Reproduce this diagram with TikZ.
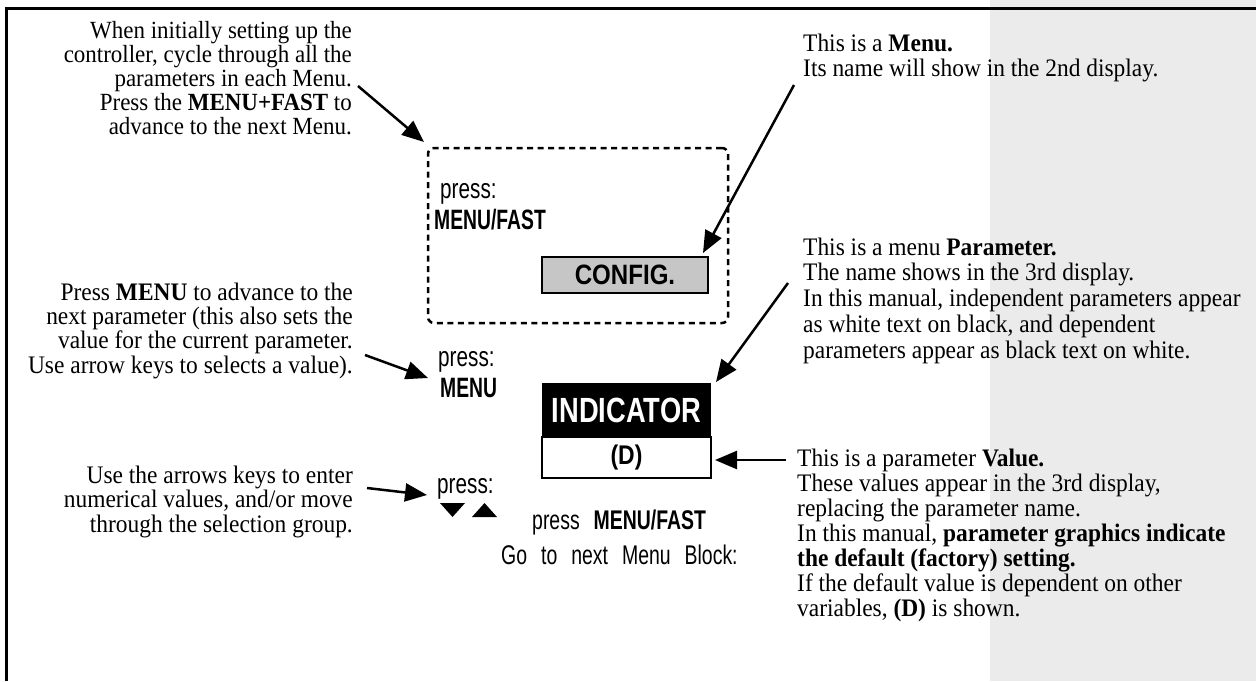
\documentclass[tikz,border=0pt]{standalone}
\usepackage{fontspec}
\setmainfont[FakeStretch=0.93]{Liberation Serif}
\newfontfamily\cond{Liberation Sans}
\usetikzlibrary{arrows.meta}
\definecolor{bggray}{HTML}{EBEBEB}
\definecolor{boxgray}{HTML}{C6C6C6}
\tikzset{
  lnote/.style={inner sep=0pt, align=right, anchor=north east, font=\fontsize{24.7}{24}\selectfont},
  mnote/.style={inner sep=0pt, align=right, anchor=north east, font=\fontsize{25.2}{24.3}\selectfont},
  bnote/.style={inner sep=0pt, align=right, anchor=north east, font=\fontsize{25.2}{24.5}\selectfont},
  rnote/.style={inner sep=0pt, align=left, anchor=north west, font=\fontsize{25.2}{25}\selectfont},
  rnotem/.style={rnote, font=\fontsize{25.2}{25.8}\selectfont},
  keytext/.style={inner sep=0pt, anchor=base west},
  arr/.style={line width=2.5pt, -{Triangle[length=22pt,width=18pt]}},
  dashbox/.style={draw, line width=2.5pt, dash pattern=on 6pt off 4.5pt, rounded corners=6pt, inner sep=0pt},
  cfgbox/.style={draw, fill=boxgray, line width=2.5pt, inner sep=0pt, minimum width=166pt, minimum height=36pt},
  parbox/.style={fill=black, text=white, inner sep=0pt, minimum width=169pt, minimum height=54pt},
  valbox/.style={draw, fill=white, line width=2pt, inner sep=0pt, minimum width=169pt, minimum height=41pt},
}
\newcommand{\keyfont}[2]{\cond\addfontfeature{FakeStretch=#1}\fontsize{#2}{#2}\selectfont}
\begin{document}
\begin{tikzpicture}[x=1pt, y=-1pt]
\useasboundingbox (0,0) rectangle (1256,681);
\fill[bggray] (990,0) rectangle (1256,681);
\draw[line width=3pt] (1256,8) -- (6,8) -- (6,681);

% display boxes
\node[dashbox, minimum width=300pt, minimum height=175pt] (menubox) at (578,235.5) {};
\node[cfgbox] (config) at (625,275) {\keyfont{0.86}{28}\bfseries CONFIG.};
\node[parbox] (param) at (626.5,410) {\keyfont{0.78}{35}\bfseries INDICATOR};
\node[valbox] (value) at (626.5,457.5) {\keyfont{0.85}{27}\bfseries (D)};

% key texts
\node[keytext] (p1) at (440,198) {\keyfont{0.74}{28}press:};
\node[keytext] (k1) at (434,229) {\keyfont{0.69}{28}\bfseries MENU/FAST};
\node[keytext] (p2) at (438,366) {\keyfont{0.74}{28}press:};
\node[keytext] (k2) at (440,397) {\keyfont{0.69}{28}\bfseries MENU};
\node[keytext] (p3) at (437,493) {\keyfont{0.74}{28}press:};
\fill (440,503) -- (465,503) -- (452.5,517) -- cycle;
\fill (472,517) -- (497,517) -- (484.5,503) -- cycle;
\node[keytext] (nx) at (532,529) {\keyfont{0.72}{27}\spaceskip=14pt\relax press \textbf{MENU/FAST}};
\node[keytext] (go) at (501,564) {\keyfont{0.72}{27}\spaceskip=14pt\relax Go to next Menu Block:};

% explanatory notes
\node[lnote] (t1) at (352,21.5) {When initially setting up the\\controller, cycle through all the\\parameters in each Menu.\\Press the \textbf{MENU+FAST} to\\advance to the next Menu.};
\node[mnote] (t2) at (353,282.5) {Press \textbf{MENU} to advance to the\\next parameter (this also sets the\\value for the current parameter.\\Use arrow keys to selects a value).};
\node[bnote] (t3) at (353,465.5) {Use the arrows keys to enter\\numerical values, and/or move\\through the selection group.};
\node[rnote] (r1) at (803,33.5) {This is a \textbf{Menu.}\\Its name will show in the 2nd display.};
\node[rnotem] (r2) at (803,237.5) {This is a menu \textbf{Parameter.}\\The name shows in the 3rd display.\\In this manual, independent parameters appear\\as white text on black, and dependent\\parameters appear as black text on white.};
\node[rnote] (r3) at (797,448.5) {This is a parameter \textbf{Value.}\\These values appear in the 3rd display,\\replacing the parameter name.\\In this manual, \textbf{parameter graphics indicate}\\\textbf{the default (factory) setting.}\\If the default value is dependent on other\\variables, \textbf{(D)} is shown.};

% connector ends
\coordinate (a1s) at (358,86);  \coordinate (a1e) at (424,142);
\coordinate (a2s) at (794,85);  \coordinate (a2e) at (703,253);
\coordinate (a3s) at (788,283); \coordinate (a3e) at (716,382);
\coordinate (a4s) at (365,355); \coordinate (a4e) at (428,378);
\coordinate (a5s) at (367,488); \coordinate (a5e) at (427,495);
\coordinate (a6s) at (786,460); \coordinate (a6e) at (715,460);
\draw[arr] (a1s) -- (a1e);
\draw[arr] (a2s) -- (a2e);
\draw[arr] (a3s) -- (a3e);
\draw[arr] (a4s) -- (a4e);
\draw[arr] (a5s) -- (a5e);
\draw[arr] (a6s) -- (a6e);
\end{tikzpicture}
\end{document}
